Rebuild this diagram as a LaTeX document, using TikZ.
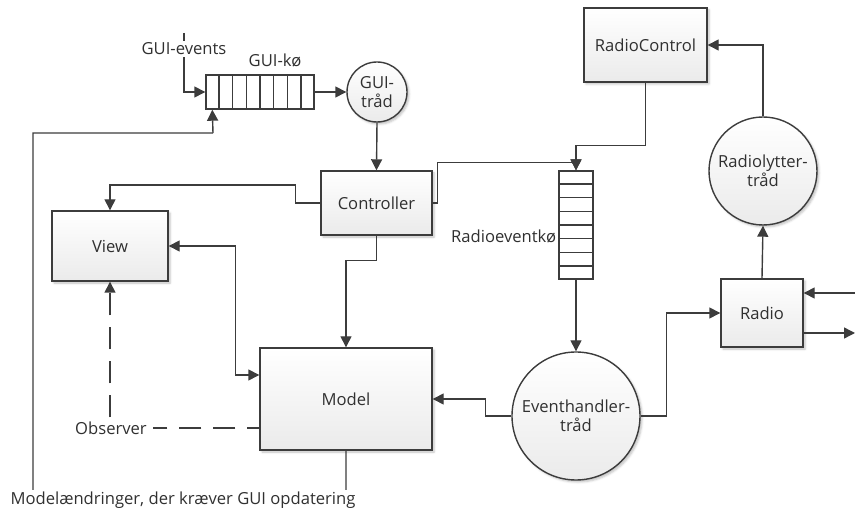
\documentclass[tikz,border=0pt]{standalone}
\usepackage{fontspec}
\setmainfont{Open Sans}
\usetikzlibrary{arrows.meta,calc,shadows.blur}
\definecolor{ink}{HTML}{3C3C3C}
\definecolor{txt}{HTML}{303030}
\begin{document}
\begin{tikzpicture}[x=1pt,y=-1pt,
  font=\fontsize{16.6}{19.5}\selectfont, text=txt,
  line/.style={draw=ink, line width=1.4pt},
  arr/.style={line, -{Triangle[length=11pt,width=11pt]}},
  biarr/.style={line, {Triangle[length=11pt,width=11pt]}-{Triangle[length=11pt,width=11pt]}},
  obs/.style={line, dash pattern=on 22pt off 12pt, dash phase=10pt},
  shade/.style={top color=white, bottom color=black!8,
    blur shadow={shadow xshift=2pt, shadow yshift=-2pt, shadow blur steps=4, shadow opacity=25}},
  block/.style={shade, line, rectangle, inner sep=2pt, align=center},
  thread/.style={shade, line, circle, inner sep=0pt, align=center},
  queue/.style={draw=ink, line width=1.4pt, fill=white, rectangle, inner sep=0pt},
  tag/.style={fill=white, inner sep=2pt}
]
\useasboundingbox (0,0) rectangle (855,510);

% GUI side
\node[queue, minimum width=108pt, minimum height=34pt] (guiq) at (260,92) {};
\foreach \i in {1,...,7}
  \draw[ink, line width=1.1pt] ($(guiq.north west)!\i/8!(guiq.north east)$) -- ($(guiq.south west)!\i/8!(guiq.south east)$);
\node[thread, minimum size=60pt] (guit) at (377,92) {GUI-\\tråd};
\node[block, minimum width=111pt, minimum height=64pt] (ctrl) at (376.5,203) {Controller};
\node[block, minimum width=116pt, minimum height=70pt] (view) at (110,246) {View};
\node[block, minimum width=172pt, minimum height=102pt] (model) at (346,399) {Model};

% Radio side
\node[block, minimum width=123pt, minimum height=74pt] (rc) at (645.5,45) {RadioControl};
\node[thread, minimum size=108pt] (rlt) at (763,171) {Radiolytter-\\tråd};
\node[queue, minimum width=34pt, minimum height=108pt] (radq) at (576,225) {};
\foreach \i in {1,...,7}
  \draw[ink, line width=1.1pt] ($(radq.north west)!\i/8!(radq.south west)$) -- ($(radq.north east)!\i/8!(radq.south east)$);
\node[thread, minimum size=128pt] (eh) at (576,416) {Eventhandler-\\tråd};
\node[block, minimum width=82pt, minimum height=68pt] (radio) at (762,313) {Radio};

% free ends
\coordinate (gev) at (184,33);
\coordinate (rin) at (855,293);
\coordinate (rout) at (855,333);

% GUI connectors
\draw[arr] (gev) |- (guiq.west);
\draw[arr] (guiq.east) -- (guit.west);
\draw[arr] (guit.south) -- (ctrl.north);
\draw[arr] (ctrl.west) -- ++(-25,0) -- ++(0,-18) -| (view.north);
\draw[biarr] (view.east) -- ++(67,0) |- ($(model.west)+(0,-24)$);
\draw[arr] (ctrl.south) -- ++(0,25) -| (model.north);
\draw[obs, -{Triangle[length=11pt,width=11pt]}] ($(model.west)+(0,29)$) -| (view.south);
\draw[line] (model.south) -- ++(0,50) -- (33,500) -- (33,133) -- (213,133);
\draw[arr] (213,133) -- ($(guiq.south west)+(7,0)$);

% Radio connectors
\draw[arr] (rc.south) -- ++(0,63) -| (radq.north);
\draw[arr] (ctrl.east) -- ++(5,0) |- ($(radq.north)+(0,-8)$) -- (radq.north);
\draw[arr] (rlt.north) |- (rc.east);
\draw[arr] (radq.south) -- (eh.north);
\draw[arr] (eh.west) -- ++(-26,0) |- (model.east);
\draw[arr] (eh.east) -- ++(26,0) |- (radio.west);
\draw[arr] (radio.north) -- (rlt.south);
\draw[arr] (rin) -- (rin -| radio.east);
\draw[arr] ($(radio.east)+(0,20)$) -- (rout);

% labels
\node[tag] (lge) at (184,49) {GUI-events};
\node[tag] (lgq) at (275,60) {GUI-kø};
\node[tag, inner xsep=6pt] (lobs) at (111,428) {Observer};
\node[tag] (lmod) at (183,500) {Modelændringer, der kræver GUI opdatering};
\node[tag, anchor=east] (lrq) at ($(radq.west)+(0,11)$) {Radioeventkø};
\end{tikzpicture}
\end{document}
